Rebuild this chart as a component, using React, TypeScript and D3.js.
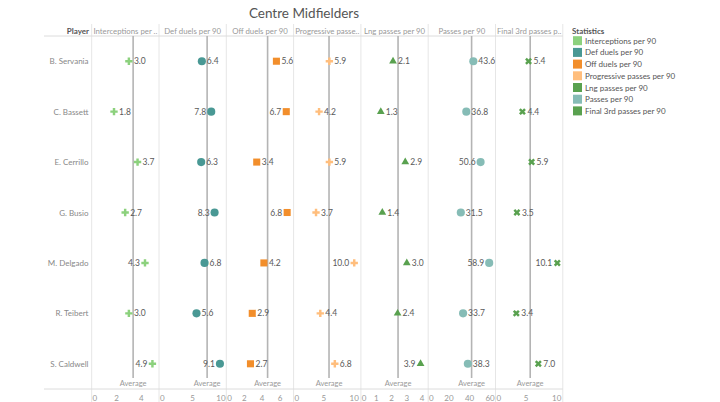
import React from "react";
import * as d3 from "d3";

const players = ["B. Servania", "C. Bassett", "E. Cerrillo", "G. Busio", "M. Delgado", "R. Teibert", "S. Caldwell"];
const statNames = [
  "Interceptions per 90",
  "Def duels per 90",
  "Off duels per 90",
  "Progressive passes per 90",
  "Lng passes per 90",
  "Passes per 90",
  "Final 3rd passes per 90",
];
const headerLabels = [
  "Interceptions per ..",
  "Def duels per 90",
  "Off duels per 90",
  "Progressive passe..",
  "Lng passes per 90",
  "Passes per 90",
  "Final 3rd passes p..",
];
const interceptions = [3.0, 1.8, 3.7, 2.7, 4.3, 3.0, 4.9];
const defDuels = [6.4, 7.8, 6.3, 8.3, 6.8, 5.6, 9.1];
const offDuels = [5.6, 6.7, 3.4, 6.8, 4.2, 2.9, 2.7];
const progPasses = [5.9, 4.2, 5.9, 3.7, 10.0, 4.4, 6.8];
const lngPasses = [2.1, 1.3, 2.9, 1.4, 3.0, 2.4, 3.9];
const passes = [43.6, 36.8, 50.6, 31.5, 58.9, 33.7, 38.3];
const final3rd = [5.4, 4.4, 5.9, 3.5, 10.1, 3.4, 7.0];
const seriesValues = [interceptions, defDuels, offDuels, progPasses, lngPasses, passes, final3rd];
const domainMax = [5.43, 10.05, 7.52, 11.1, 4.4, 65, 11.0];
const tickValues = [
  [0, 2, 4],
  [0, 5, 10],
  [0, 2, 4, 6],
  [0, 5, 10],
  [0, 1, 2, 3, 4],
  [0, 20, 40, 60],
  [0, 5, 10],
];
const colors = ["#8CD17D", "#499894", "#F28E2B", "#FFBE7D", "#59A14F", "#86BCB6", "#59A14F"];
const shapes = ["plus", "circle", "square", "plus", "triangle", "circle", "x"];

const FONT = "Lato, 'Open Sans', sans-serif";
const W = 720;
const H = 402;
const left = 91.7;
const panelW = 67.3;
const headerLine = 36;
const axisY = 389;
const lineLeft = 44;
const lineRight = left + panelW * 7;

function Marker({ shape, x, y, color }: { shape: string; x: number; y: number; color: string }) {
  let d = "";
  let rot = 0;
  if (shape === "plus") d = d3.symbol(d3.symbolCross, 30)() as string;
  if (shape === "x") {
    d = d3.symbol(d3.symbolCross, 30)() as string;
    rot = 45;
  }
  if (shape === "circle") d = d3.symbol(d3.symbolCircle, 52)() as string;
  if (shape === "square") d = d3.symbol(d3.symbolSquare, 50)() as string;
  if (shape === "triangle") d = d3.symbol(d3.symbolTriangle, 26)() as string;
  return <path d={d} fill={color} transform={`translate(${x},${y}) rotate(${rot})`} />;
}

export default function App() {
  const y = d3.scaleBand<string>().domain(players).range([headerLine, axisY]);
  const panels = statNames.map((s, i) => {
    const x0 = left + panelW * i;
    const x = d3.scaleLinear().domain([0, domainMax[i]]).range([x0, x0 + panelW]);
    return { x0, x1: x0 + panelW, x };
  });

  return (
    <svg width={W} height={H} style={{ position: "absolute", left: 0, top: 0, background: "#fff" }} fontFamily={FONT}>
      <text x={304} y={13} textAnchor="middle" dominantBaseline="central" fontSize={13.5} fill="#555">
        Centre Midfielders
      </text>

      {/* separators */}
      {d3.range(8).map((i) => (
        <line key={"sep" + i} x1={left + panelW * i} x2={left + panelW * i} y1={24} y2={H} stroke="#e6e6e6" strokeWidth={1} />
      ))}
      <line x1={lineLeft} x2={lineRight} y1={headerLine} y2={headerLine} stroke="#dcdcdc" strokeWidth={1} />
      <line x1={lineLeft} x2={lineRight} y1={axisY} y2={axisY} stroke="#dcdcdc" strokeWidth={1} />

      {/* headers */}
      <text x={89} y={31} textAnchor="end" dominantBaseline="central" fontSize={8} fontWeight="bold" fill="#555">
        Player
      </text>
      {headerLabels.map((h, i) => (
        <text key={h} x={panels[i].x0 + panelW / 2} y={31} textAnchor="middle" dominantBaseline="central" fontSize={7.8} fill="#999">
          {h}
        </text>
      ))}

      {/* player names */}
      {players.map((p) => (
        <text key={p} x={88.5} y={(y(p) as number) + y.bandwidth() / 2} textAnchor="end" dominantBaseline="central" fontSize={8} fill="#888">
          {p}
        </text>
      ))}

      {/* panels */}
      {panels.map((pn, i) => {
        const vals = seriesValues[i];
        const avg = d3.mean(vals) as number;
        const ax = pn.x(avg);
        return (
          <g key={"p" + i}>
            <line x1={ax} x2={ax} y1={headerLine} y2={378} stroke="#b4b4b4" strokeWidth={1.6} />
            <text x={ax} y={383.5} textAnchor="middle" dominantBaseline="central" fontSize={7.5} fill="#999">
              Average
            </text>
            {vals.map((v, j) => {
              const cx = pn.x(v);
              const cy = (y(players[j]) as number) + y.bandwidth() / 2;
              const label = v.toFixed(1);
              const need = 5 + 3.7 * label.length;
              const right = cx + need <= pn.x1;
              return (
                <g key={j}>
                  <Marker shape={shapes[i]} x={cx} y={cy} color={colors[i]} />
                  <text
                    x={right ? cx + 5 : cx - 5}
                    y={cy}
                    textAnchor={right ? "start" : "end"}
                    dominantBaseline="central"
                    fontSize={8.5}
                    fill="#595959"
                  >
                    {label}
                  </text>
                </g>
              );
            })}
            {tickValues[i].map((t) => {
              const tx = pn.x(t);
              const w = String(t).length * 4.4;
              let lx = tx;
              if (lx - w / 2 < pn.x0 + 1) lx = pn.x0 + 1 + w / 2;
              if (lx + w / 2 > pn.x1 - 1) lx = pn.x1 - 1 - w / 2;
              return (
                <text key={t} x={lx} y={397.5} textAnchor="middle" dominantBaseline="central" fontSize={8} fill="#999">
                  {t}
                </text>
              );
            })}
          </g>
        );
      })}

      {/* legend */}
      <text x={572} y={31} dominantBaseline="central" fontSize={8} fontWeight="bold" fill="#555">
        Statistics
      </text>
      {statNames.map((s, i) => (
        <g key={s} transform={`translate(573,${40.7 + i * 11.7})`}>
          <rect x={0} y={-4.5} width={9} height={9} fill={colors[i]} />
          <text x={12} y={0} dominantBaseline="central" fontSize={8} fill="#555">
            {s}
          </text>
        </g>
      ))}
    </svg>
  );
}
